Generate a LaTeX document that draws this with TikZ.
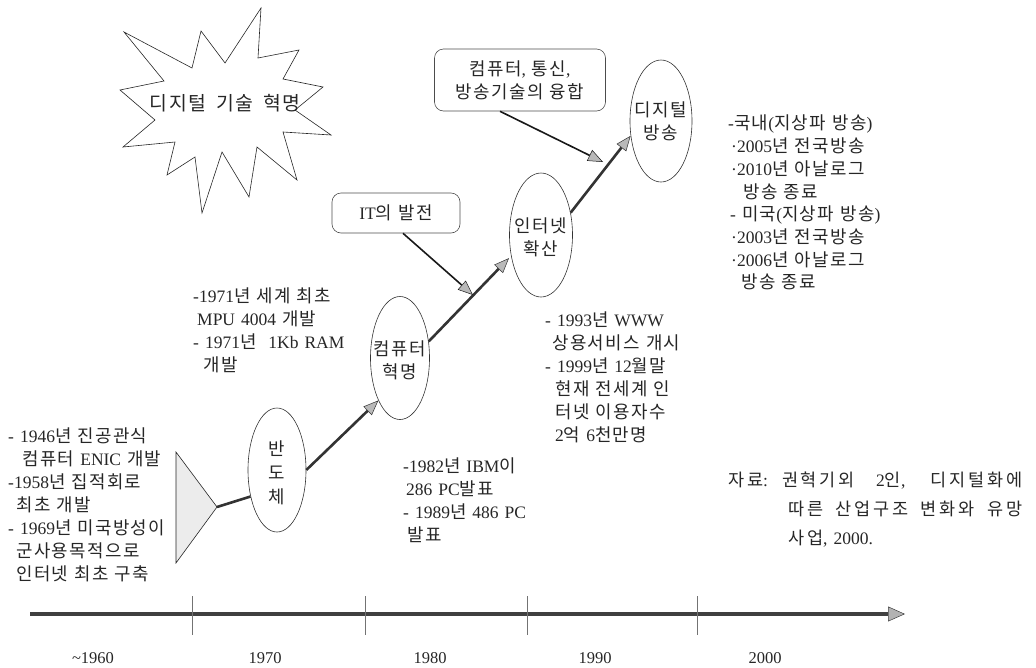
\documentclass[tikz,border=0pt]{standalone}
\usepackage{fontspec}
\setmainfont{Liberation Serif}
\newfontfamily\krbody[Scale=1.02,LetterSpace=8]{Noto Sans CJK KR}
\newfontfamily\krsrc[LetterSpace=16]{Noto Sans CJK KR}
\newcommand\krfont{\krbody}
\newcommand\widesp{\spaceskip=6pt plus 3pt\relax}
\newcommand\bodyfont{\fontsize{17.5}{23}\selectfont\widesp}
\newcommand\rightfont{\fontsize{17.5}{22.7}\selectfont\widesp}
\newcommand\srcfont{\fontsize{17.5}{20}\selectfont\let\krfont\krsrc\widesp}
\usetikzlibrary{shapes.geometric,arrows.meta}
% automatic switch to the Korean font for Hangul syllables
\XeTeXinterchartokenstate=1
\chardef\KrClass=7
\newcount\krcnt
\krcnt="AC00
\loop
  \XeTeXcharclass\krcnt=\KrClass
  \advance\krcnt by 1
\ifnum\krcnt<"D7A4 \repeat
\XeTeXinterchartoks 0 \KrClass = {\begingroup\krfont}
\XeTeXinterchartoks 4095 \KrClass = {\begingroup\krfont}
\XeTeXinterchartoks \KrClass 0 = {\endgroup}
\XeTeXinterchartoks \KrClass 4095 = {\endgroup}
\begin{document}
\begin{tikzpicture}[x=1pt,y=-1pt,
  body/.style={font=\bodyfont, text=black!85},
  txt/.style={body, align=left, inner sep=0pt, anchor=north west},
  ellnode/.style={ellipse, draw=black!80, line width=0.6pt, inner sep=0pt},
  elltext/.style={body, align=center, inner sep=0pt},
  rbox/.style={body, draw=black!70, rounded corners=9pt, line width=0.6pt, align=center, inner sep=0pt},
  mainarrow/.style={line width=2.6pt, draw=black!80, -{Triangle[length=15pt,width=12pt,fill=gray!55,line width=0.5pt]}},
  callarrow/.style={line width=1.6pt, draw=black!90, -{Triangle[length=15pt,width=12pt,fill=gray!55,line width=0.5pt]}},
  axisline/.style={line width=3.6pt, draw=black!75, -{Triangle[length=17pt,width=15pt,fill=gray!60,line width=0.5pt]}},
  tickline/.style={draw=black!55, line width=0.6pt},
  yearlab/.style={font=\fontsize{16.5}{20}\selectfont, text=black!85, inner sep=0pt},
  srctext/.style={font=\srcfont, text=black!85, inner sep=0pt, anchor=base west},
]
\useasboundingbox (0,0) rectangle (1036,667);

% starburst
\draw[line width=0.6pt, draw=black!85] (124,32) -- (192,68) -- (201,31) -- (225,63) -- (261,8) -- (258,58)
  -- (299,50) -- (283,79) -- (323,87) -- (295,110) -- (331,135) -- (283,132) -- (297,180)
  -- (257,147) -- (249,197) -- (222,152) -- (202,213) -- (195,157) -- (167,175) -- (175,142)
  -- (123,147) -- (155,120) -- (120,90) -- (164,81) -- cycle;
\node[font=\fontsize{19}{23}\selectfont, text=black!85, inner sep=0pt] (star) at (225,103) {디지털\hspace{5pt} 기술\hspace{5pt} 혁명};

% start triangle
\draw[fill=gray!15, draw=black!85, line width=0.6pt] (176,452) -- (217,507) -- (176,563) -- cycle;
\coordinate (tri) at (217,507);

% ellipses
\node[ellnode, minimum width=58pt, minimum height=124pt] (ban) at (277,470) {};
\node[elltext, font=\fontsize{17.5}{24}\selectfont] (banT) at (277,473) {반\\도\\체};
\node[ellnode, minimum width=59pt, minimum height=123pt] (komp) at (400,358) {};
\node[elltext] (kompT) at (400,360) {컴퓨터\\혁명};
\node[ellnode, minimum width=63pt, minimum height=124pt] (inet) at (541,235) {};
\node[elltext] (inetT) at (541,237) {인터넷\\확산};
\node[ellnode, minimum width=62pt, minimum height=122pt] (dig) at (661,121) {};
\node[elltext] (digT) at (661,121) {디지털\\방송};

% boxes
\node[rbox, minimum width=128pt, minimum height=40pt] (itb) at (396,213) {IT의 발전};
\node[rbox, minimum width=171pt, minimum height=62pt] (fus) at (520,80) {컴퓨터, 통신,\\방송기술의 융합};

% connectors
\draw[line width=2.6pt, draw=black!80] (tri) -- (ban.225);
\draw[mainarrow] (ban.east) -- (komp.243);
\draw[mainarrow, shorten >=3pt] (komp.30) -- (inet.215);
\draw[mainarrow] (inet.37) -- (dig.206);
\coordinate (itTip) at (473,295);
\coordinate (fusTip) at (603,162);
\draw[callarrow] ([xshift=7pt]itb.south) -- (itTip);
\draw[callarrow] ([xshift=-20pt]fus.south) -- (fusTip);

% timeline
\coordinate (ax0) at (30,614);
\coordinate (ax1) at (905,614);
\draw[axisline] (ax0) -- (ax1);
\foreach \tx in {192,365,527,697} { \draw[tickline] (\tx,596) -- (\tx,635); }
\node[yearlab] (y1960) at (93,658) {{\char"7E}1960};
\node[yearlab] (y1970) at (265,658) {1970};
\node[yearlab] (y1980) at (430,658) {1980};
\node[yearlab] (y1990) at (595,658) {1990};
\node[yearlab] (y2000) at (765,658) {2000};

% text blocks
\node[txt] (t1) at (8,428) {- 1946년 진공관식\\\hspace*{14pt}컴퓨터 ENIC 개발\\-1958년 집적회로\\\hspace*{8pt}최초 개발\\- 1969년 미국방성이\\\hspace*{8pt}군사용목적으로\\\hspace*{8pt}인터넷 최초 구축};
\node[txt] (t2) at (193,288) {-1971년 세계 최초\\\hspace*{4pt}MPU 4004 개발\\- 1971년\ \ 1Kb RAM\\\hspace*{10pt}개발};
\node[txt] (t3) at (403,458) {-1982년 IBM이\\\hspace*{3pt}286 PC발표\\- 1989년 486 PC\\\hspace*{4pt}발표};
\node[txt] (t4) at (545,312) {- 1993년 WWW\\\hspace*{7pt}상용서비스 개시\\- 1999년 12월말\\\hspace*{10pt}현재 전세계 인\\\hspace*{10pt}터넷 이용자수\\\hspace*{10pt}2억 6천만명};
\node[txt, font=\rightfont] (t5) at (728,115) {-국내(지상파 방송)\\\hspace*{3pt}·2005년 전국방송\\\hspace*{3pt}·2010년 아날로그\\\hspace*{15pt}방송 종료\\\hspace*{2pt}- 미국(지상파 방송)\\\hspace*{3pt}·2003년 전국방송\\\hspace*{3pt}·2006년 아날로그\\\hspace*{13pt}방송 종료};

% source
\node[srctext] (src1) at (728,486) {\makebox[294pt][s]{자료:\hspace{14pt}권혁기외 2인, 디지털화에}};
\node[srctext] (src2) at (788,515) {\makebox[234pt][s]{따른 산업구조 변화와 유망}};
\node[srctext] (src3) at (788,544) {사업, 2000.};
\end{tikzpicture}
\end{document}
